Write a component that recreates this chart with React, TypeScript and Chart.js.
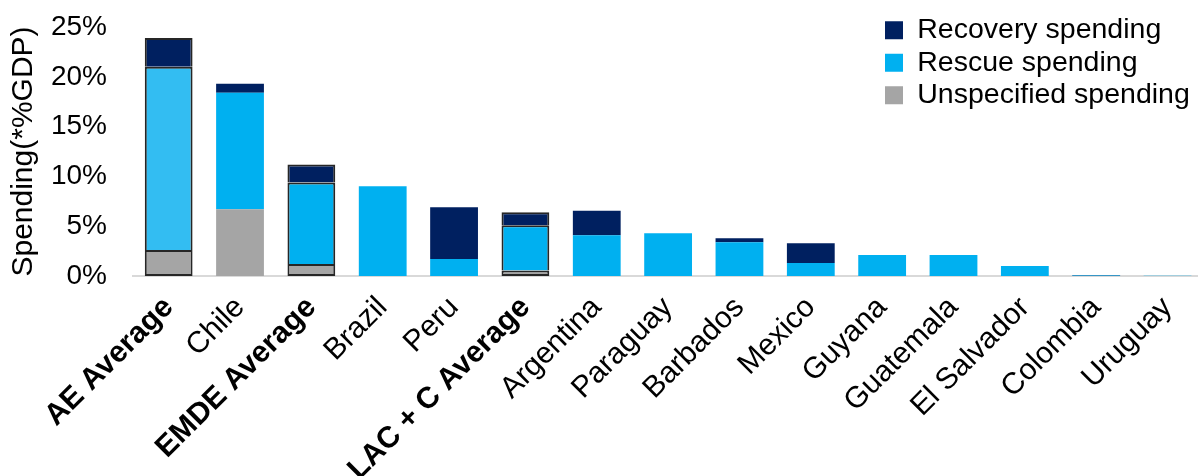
import React, { useEffect, useRef } from 'react';
import { Chart, registerables } from 'chart.js';

Chart.register(...registerables);

const categories = [
  'AE Average',
  'Chile',
  'EMDE Average',
  'Brazil',
  'Peru',
  'LAC + C Average',
  'Argentina',
  'Paraguay',
  'Barbados',
  'Mexico',
  'Guyana',
  'Guatemala',
  'El Salvador',
  'Colombia',
  'Uruguay',
];
const averageCategories = ['AE Average', 'EMDE Average', 'LAC + C Average'];

const unspecifiedSpending = [2.6, 6.7, 1.2, 0, 0, 0.55, 0, 0, 0, 0, 0, 0, 0, 0, 0];
const rescueSpending = [18.4, 11.7, 8.2, 9.0, 1.7, 4.55, 4.1, 4.3, 3.4, 1.3, 2.1, 2.1, 1.0, 0.05, 0.03];
const recoverySpending = [2.9, 0.9, 1.8, 0, 5.2, 1.3, 2.45, 0, 0.4, 2.0, 0, 0, 0, 0.05, 0];

const yTickValues = [0, 5, 10, 15, 20, 25];

const legendColors: Record<string, string> = {
  'Recovery spending': '#002060',
  'Rescue spending': '#00b0f0',
  'Unspecified spending': '#a5a5a5',
};

const FONT = "'Liberation Sans', Arial, Helvetica, sans-serif";

export default function App() {
  const ref = useRef<HTMLCanvasElement>(null);

  useEffect(() => {
    document.body.style.margin = '0';
    const isAvg = (i: number) => averageCategories.includes(categories[i]);
    const border = (ctx: any) => (ctx.type === 'data' && isAvg(ctx.dataIndex) ? 2 : 0);

    const legendPlacer = {
      id: 'legendPlacer',
      afterLayout(chart: any) {
        const lg = chart.legend;
        if (!lg) return;
        const w = lg.width;
        const h = lg.height;
        lg.left = 881;
        lg.right = 881 + w;
        lg.top = 12;
        lg.bottom = 12 + h;
      },
    };

    const chart = new Chart(ref.current as HTMLCanvasElement, {
      type: 'bar',
      data: {
        labels: categories,
        datasets: [
          {
            label: 'Unspecified spending',
            data: unspecifiedSpending,
            backgroundColor: '#a5a5a5',
            borderColor: '#262626',
            borderWidth: border,
            borderSkipped: false,
          },
          {
            label: 'Rescue spending',
            data: rescueSpending,
            backgroundColor: (ctx: any) => (ctx.type === 'data' && ctx.dataIndex === 0 ? '#33bdf2' : '#00b0f0'),
            borderColor: '#262626',
            borderWidth: border,
            borderSkipped: 'bottom',
          },
          {
            label: 'Recovery spending',
            data: recoverySpending,
            backgroundColor: '#002060',
            borderColor: '#262626',
            borderWidth: border,
            borderSkipped: 'bottom',
          },
        ],
      },
      options: {
        responsive: false,
        animation: false,
        devicePixelRatio: 1,
        layout: { padding: { top: 27, right: 0, bottom: 0, left: 0 } },
        datasets: { bar: { categoryPercentage: 1, barPercentage: 0.67 } } as any,
        plugins: {
          legend: {
            position: 'chartArea' as any,
            align: 'start',
            reverse: true,
            labels: {
              font: { family: FONT, size: 28.5 },
              color: '#000',
              boxWidth: 18,
              boxHeight: 18,
              padding: 4,
              generateLabels: (c: any) => {
                const items = Chart.defaults.plugins.legend.labels.generateLabels(c);
                return items.map((it: any) => ({
                  ...it,
                  fillStyle: legendColors[it.text] || it.fillStyle,
                  lineWidth: 0,
                  strokeStyle: 'rgba(0,0,0,0)',
                }));
              },
            },
          },
          tooltip: { enabled: false },
        },
        scales: {
          x: {
            stacked: true,
            grid: { display: false, drawTicks: false },
            border: { color: '#d9d9d9', width: 2 },
            ticks: {
              autoSkip: false,
              maxRotation: 45,
              minRotation: 45,
              padding: 14,
              color: '#000',
              font: (ctx: any) => ({
                family: FONT,
                size: 30,
                weight: isAvg(ctx.index) ? 'bold' : 'normal',
              }),
            },
            afterFit: (s: any) => {
              s.height = 200;
            },
          },
          y: {
            stacked: true,
            min: 0,
            max: 25,
            grid: { display: false, drawTicks: false },
            border: { display: false },
            afterBuildTicks: (s: any) => {
              s.ticks = yTickValues.map((v) => ({ value: v }));
            },
            ticks: {
              padding: 26,
              color: '#000',
              font: { family: FONT, size: 28 },
              callback: (v: any) => `${v}%`,
            },
            title: {
              display: true,
              text: 'Spending(*%GDP)',
              color: '#000',
              font: { family: FONT, size: 30 },
              padding: { top: 6, bottom: 0 },
            },
            afterFit: (s: any) => {
              s.width = 133;
              s.paddingTop = 0;
              s.paddingBottom = 0;
            },
          },
        },
      },
      plugins: [legendPlacer],
    });
    return () => chart.destroy();
  }, []);

  return (
    <div style={{ width: 1198, height: 476, overflow: 'hidden' }}>
      <canvas ref={ref} width={1207} height={476} style={{ display: 'block' }} />
    </div>
  );
}
